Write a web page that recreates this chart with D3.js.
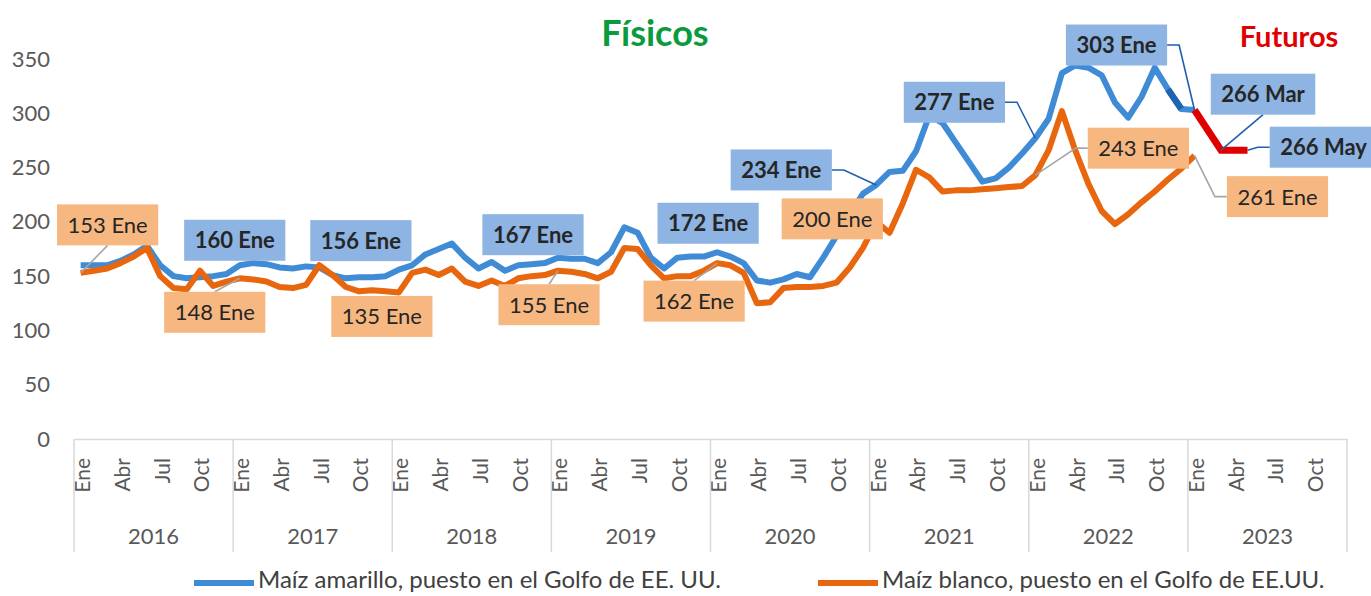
<!DOCTYPE html>
<html>
<head>
<meta charset="utf-8">
<script src="https://cdn.jsdelivr.net/npm/d3@7"></script>
<style>
    body { margin: 0; background: #fff; }
    svg { font-family: Lato, "Open Sans", sans-serif; }
</style>
</head>
<body>
<div id="chart"></div>
<script>

// ---- data ----
const years = ["2016", "2017", "2018", "2019", "2020", "2021", "2022", "2023"];
const months = ["Ene", "Feb", "Mar", "Abr", "May", "Jun", "Jul", "Ago", "Sep", "Oct", "Nov", "Dic"];
const tickMonths = ["Ene", "Abr", "Jul", "Oct"];
const yTicks = [0, 50, 100, 150, 200, 250, 300, 350];

// Ene-2016 .. Ene-2023, USD/t
const amarillo = [
    160, 160, 160, 164, 170, 178, 160, 150, 148, 149, 150, 152,
    160, 162, 161, 158, 157, 159, 158, 151, 148, 149, 149, 150,
    156, 160, 170, 175, 180, 167, 157, 163, 155, 160, 161, 162,
    167, 166, 166, 162, 172, 195, 190, 167, 157, 167, 168, 168,
    172, 168, 162, 146, 144, 147, 152, 149, 167, 187, 207, 226,
    234, 246, 247, 265, 298, 291, 273, 255, 237, 240, 250, 263,
    277, 295, 337, 344, 342, 335, 310, 296, 315, 342, 322, 304,
    303
];
const blanco = [
    153, 155, 157, 162, 168, 176, 150, 139, 138, 155, 141, 145,
    148, 147, 145, 140, 139, 142, 160, 151, 140, 136, 137, 136,
    135, 153, 156, 151, 157, 145, 141, 146, 141, 148, 150, 151,
    155, 154, 152, 148, 154, 176, 175, 160, 148, 150, 150, 155,
    162, 160, 153, 125, 126, 139, 140, 140, 141, 144, 158, 176,
    200, 190, 217, 248, 241, 228, 229, 229, 230, 231, 232, 233,
    243, 266, 302, 266, 235, 210, 198, 207, 218, 228, 239, 249,
    261
];
const futurosFechas = ["Ene-2023", "Mar-2023", "May-2023"];
const futurosValores = [303, 266, 266];
const tramoOscuro = ["Nov-2022", "Dic-2022"];

const etiquetasAmarillo = ["Ene-2017", "Ene-2018", "Ene-2019", "Ene-2020", "Ene-2021", "Ene-2022", "Ene-2023"];
const etiquetasBlanco = ["Ene-2016", "Ene-2017", "Ene-2018", "Ene-2019", "Ene-2020", "Ene-2021", "Ene-2022", "Ene-2023"];
const etiquetasFuturos = ["Mar-2023", "May-2023"];

// ---- layout ----
const W = 1371, H = 596;
const plotLeft = 74, plotRight = 1347, plotTop = 59, plotBottom = 439;

const keys = [];
years.forEach(yr => months.forEach(m => keys.push(m + "-" + yr)));

const colAmarillo = "#3F8BD5";
const colBlanco = "#E8660E";
const colFuturos = "#E00000";

const svg = d3.select("#chart").append("svg")
    .attr("width", W)
    .attr("height", H);

let x = d3.scaleBand().domain(keys).range([plotLeft, plotRight]).padding(0);
let y = d3.scaleLinear().domain([0, 350]).range([plotBottom, plotTop]);
let cx = k => x(k) + x.bandwidth() / 2;

// y axis
let yAxis = svg.append("g")
    .attr("transform", "translate(" + plotLeft + ",0)")
    .call(d3.axisLeft(y).tickValues(yTicks).tickSize(0).tickPadding(24));
yAxis.select(".domain").remove();
yAxis.selectAll("text")
    .attr("fill", "#595959")
    .style("font-size", "22px")
    .style("font-family", "Lato, sans-serif");

// x axis (months)
let xAxis = svg.append("g")
    .attr("transform", "translate(0," + plotBottom + ")")
    .call(d3.axisBottom(x)
        .tickValues(keys.filter(k => tickMonths.includes(k.split("-")[0])))
        .tickFormat(k => k.split("-")[0])
        .tickSize(0));
xAxis.select(".domain").attr("stroke", "#D9D9D9").attr("stroke-width", 1.5);
xAxis.selectAll("text")
    .attr("transform", "rotate(-90)")
    .attr("x", -19)
    .attr("y", 2)
    .attr("dy", "0.35em")
    .attr("text-anchor", "end")
    .attr("fill", "#595959")
    .style("font-size", "21px")
    .style("font-family", "Lato, sans-serif");

// year groups
let bounds = years.map(yr => x("Ene-" + yr)).concat([plotRight]);
svg.append("g").selectAll("line")
    .data(bounds)
    .enter()
    .append("line")
    .attr("x1", d => d).attr("x2", d => d)
    .attr("y1", plotBottom).attr("y2", 552)
    .attr("stroke", "#D9D9D9")
    .attr("stroke-width", 1.5);

svg.append("g").selectAll("text")
    .data(years)
    .enter()
    .append("text")
    .attr("x", (d, i) => (bounds[i] + bounds[i + 1]) / 2)
    .attr("y", 536)
    .attr("dy", "0.35em")
    .attr("text-anchor", "middle")
    .attr("fill", "#595959")
    .style("font-size", "22px")
    .text(d => d);

// lines
let line = d3.line()
    .x(d => cx(d.k))
    .y(d => y(d.v));

let serieA = amarillo.map((v, i) => ({k: keys[i], v: v}));
let serieB = blanco.map((v, i) => ({k: keys[i], v: v}));
let serieF = futurosValores.map((v, i) => ({k: futurosFechas[i], v: v}));
let serieT = serieA.filter(d => tramoOscuro.includes(d.k));

svg.append("path")
    .datum(serieA)
    .attr("d", line)
    .attr("fill", "none")
    .attr("stroke", colAmarillo)
    .attr("stroke-width", 6)
    .attr("stroke-linejoin", "round");

svg.append("path")
    .datum(serieT)
    .attr("d", line)
    .attr("fill", "none")
    .attr("stroke", "#1F63B3")
    .attr("stroke-width", 6.5);

svg.append("path")
    .datum(serieB)
    .attr("d", line)
    .attr("fill", "none")
    .attr("stroke", colBlanco)
    .attr("stroke-width", 6)
    .attr("stroke-linejoin", "round");

svg.append("path")
    .datum(serieF)
    .attr("d", line)
    .attr("fill", "none")
    .attr("stroke", colFuturos)
    .attr("stroke-width", 7)
    .attr("stroke-linejoin", "miter");

// data labels: offset of box centre from its point, and leader side
const posAmarillo = [[-5, -25, ""], [-38, -29, ""], [-25, -23, ""], [-9, -29, ""], [-95, -15, "right"], [-81, -36, "right"], [-78, -65, "right"]];
const posBlanco = [[27, -48, "bottom"], [-25, 34, "top"], [-17, 24, ""], [-9, 34, "top"], [-23, 38, "top"], [-44, -3, ""], [103, -27, "left"], [83, 41, "left"]];
const posFuturos = [[42, -56, "bottom"], [76, -3, "left"]];

let labels = [];
etiquetasAmarillo.forEach((k, i) => labels.push({k: k, v: amarillo[keys.indexOf(k)], pos: posAmarillo[i], tipo: "a"}));
etiquetasBlanco.forEach((k, i) => labels.push({k: k, v: blanco[keys.indexOf(k)], pos: posBlanco[i], tipo: "b"}));
etiquetasFuturos.forEach((k, i) => labels.push({k: k, v: futurosValores[futurosFechas.indexOf(k)], pos: posFuturos[i], tipo: "a"}));

let labelGroup = svg.append("g");
labels.forEach(d => {
    let px = cx(d.k), py = y(d.v);
    let bx = px + d.pos[0], by = py + d.pos[1];
    let g = labelGroup.append("g");
    let leader = g.append("path");
    let rect = g.append("rect");
    let txt = g.append("text")
        .attr("x", bx)
        .attr("y", by)
        .attr("dy", "0.36em")
        .attr("text-anchor", "middle")
        .attr("fill", "#262626")
        .style("font-size", "22px")
        .style("font-weight", d.tipo == "a" ? "bold" : "normal")
        .text(d.v + " " + d.k.split("-")[0]);
    let w = txt.node().getComputedTextLength() + 21;
    let h = 41;
    rect.attr("x", bx - w / 2).attr("y", by - h / 2)
        .attr("width", w).attr("height", h)
        .attr("fill", d.tipo == "a" ? "#8DB4E2" : "#F6B880");

    let pts = null;
    if (d.pos[2] == "right") pts = [[bx + w / 2, by], [bx + w / 2 + 12, by], [px, py]];
    if (d.pos[2] == "left") pts = [[bx - w / 2, by], [bx - w / 2 - 12, by], [px, py]];
    if (d.pos[2] == "top") pts = [[bx, by - h / 2], [px, py]];
    if (d.pos[2] == "bottom") pts = [[bx, by + h / 2], [px, py]];
    if (pts) {
        leader.attr("d", d3.line()(pts))
            .attr("fill", "none")
            .attr("stroke", d.tipo == "a" ? "#1F5FAE" : "#A6A6A6")
            .attr("stroke-width", 1.6);
    }
});

// titles
svg.append("text")
    .attr("x", 655).attr("y", 46)
    .attr("text-anchor", "middle")
    .attr("fill", "#0B9B3D")
    .style("font-size", "36px")
    .style("font-weight", "bold")
    .text("Físicos");

svg.append("text")
    .attr("x", 1289).attr("y", 47)
    .attr("text-anchor", "middle")
    .attr("fill", colFuturos)
    .style("font-size", "29px")
    .style("font-weight", "bold")
    .text("Futuros");

// legend
const legendItems = [
    {name: "Maíz amarillo, puesto en el Golfo de EE. UU.", color: colAmarillo, x: 194},
    {name: "Maíz blanco, puesto en el Golfo de EE.UU.", color: colBlanco, x: 818}
];
let legend = svg.append("g");
legendItems.forEach(d => {
    legend.append("line")
        .attr("x1", d.x).attr("x2", d.x + 60)
        .attr("y1", 583).attr("y2", 583)
        .attr("stroke", d.color)
        .attr("stroke-width", 6);
    legend.append("text")
        .attr("x", d.x + 64).attr("y", 580)
        .attr("dy", "0.35em")
        .attr("fill", "#404040")
        .style("font-size", "24px")
        .text(d.name);
});

</script>
</body>
</html>
